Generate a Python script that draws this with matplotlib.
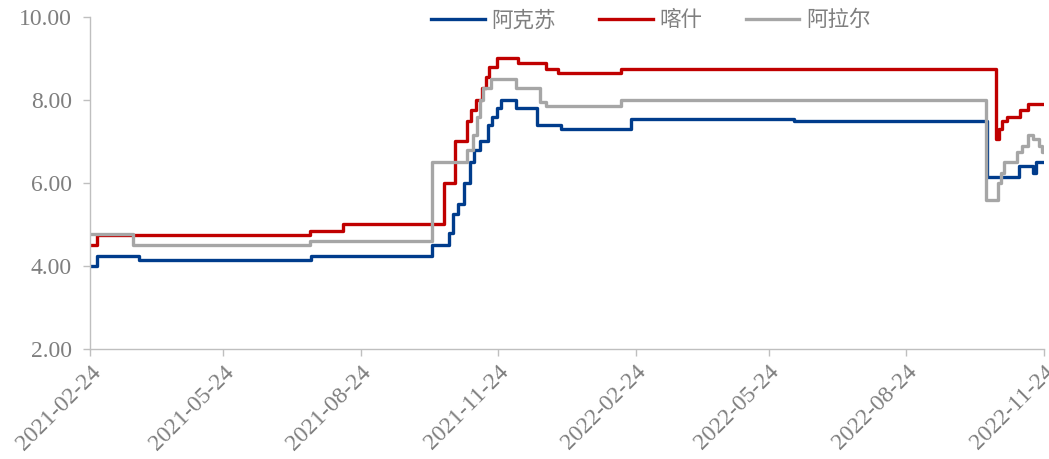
import matplotlib.pyplot as plt
import matplotlib.dates as mdates
import pandas as pd

# 阿克苏
aks_dates = ['2021-02-24', '2021-03-01', '2021-03-29', '2021-07-22', '2021-10-11',
             '2021-10-22', '2021-10-25', '2021-10-28', '2021-11-01', '2021-11-05',
             '2021-11-08', '2021-11-12', '2021-11-17', '2021-11-20', '2021-11-23',
             '2021-11-26', '2021-12-06', '2021-12-20', '2022-01-05', '2022-02-21',
             '2022-06-10', '2022-10-17', '2022-11-07', '2022-11-17', '2022-11-19',
             '2022-11-24']
aks_vals = [4.00, 4.25, 4.15, 4.25, 4.50,
            4.80, 5.25, 5.50, 6.00, 6.50,
            6.80, 7.00, 7.40, 7.60, 7.80,
            8.00, 7.80, 7.40, 7.30, 7.55,
            7.50, 6.15, 6.40, 6.25, 6.50,
            6.50]

# 喀什
ks_dates = ['2021-02-24', '2021-03-01', '2021-07-21', '2021-08-12', '2021-10-19',
            '2021-10-26', '2021-11-03', '2021-11-06', '2021-11-09', '2021-11-13',
            '2021-11-16', '2021-11-18', '2021-11-23', '2021-12-07', '2021-12-26',
            '2022-01-03', '2022-02-14', '2022-10-23', '2022-10-25', '2022-10-27',
            '2022-10-30', '2022-11-08', '2022-11-13', '2022-11-24']
ks_vals = [4.50, 4.75, 4.85, 5.00, 6.00,
           7.00, 7.50, 7.75, 8.00, 8.30,
           8.55, 8.80, 9.00, 8.90, 8.75,
           8.65, 8.75, 7.05, 7.30, 7.50,
           7.60, 7.75, 7.90, 7.90]

# 阿拉尔
ale_dates = ['2021-02-24', '2021-03-25', '2021-07-21', '2021-10-11', '2021-11-03',
             '2021-11-07', '2021-11-10', '2021-11-12', '2021-11-14', '2021-11-19',
             '2021-12-06', '2021-12-22', '2021-12-26', '2022-02-14', '2022-10-16',
             '2022-10-24', '2022-10-26', '2022-10-28', '2022-11-06', '2022-11-09',
             '2022-11-13', '2022-11-17', '2022-11-21', '2022-11-23', '2022-11-24']
ale_vals = [4.78, 4.50, 4.60, 6.50, 6.80,
            7.15, 7.60, 8.00, 8.30, 8.50,
            8.30, 7.95, 7.85, 8.00, 5.60,
            6.00, 6.25, 6.50, 6.75, 6.90,
            7.15, 7.05, 6.90, 6.75, 6.75]

series = [
    ('阿克苏', aks_dates, aks_vals, '#003C8C'),
    ('喀什', ks_dates, ks_vals, '#C00000'),
    ('阿拉尔', ale_dates, ale_vals, '#A6A6A6'),
]
tick_dates = ['2021-02-24', '2021-05-24', '2021-08-24', '2021-11-24',
              '2022-02-24', '2022-05-24', '2022-08-24', '2022-11-24']

plt.rcParams['font.family'] = ['Liberation Serif', 'Noto Sans CJK SC']
grey = '#7F7F7F'

fig = plt.figure(figsize=(10.49, 4.59), dpi=100)
ax = fig.add_axes([0.0858, 0.2397, 0.9094, 0.7233])

for name, d, v, c in series:
    ax.plot(pd.to_datetime(d), v, drawstyle='steps-post', color=c, lw=2.4, label=name)

ax.set_ylim(2, 10)
ax.set_yticks([2, 4, 6, 8, 10])
ax.yaxis.set_major_formatter(plt.FormatStrFormatter('%.2f'))
ticks = pd.to_datetime(tick_dates)
ax.set_xlim(ticks[0], ticks[-1])
ax.set_xticks(ticks)
ax.xaxis.set_major_formatter(mdates.DateFormatter('%Y-%m-%d'))

for s in ['top', 'right']:
    ax.spines[s].set_visible(False)
for s in ['left', 'bottom']:
    ax.spines[s].set_color('#BFBFBF')
    ax.spines[s].set_linewidth(1.0)

ax.tick_params(axis='both', colors='#BFBFBF', labelcolor=grey, labelsize=17,
               length=5, width=1.0)
ax.tick_params(axis='y', pad=8)
ax.tick_params(axis='x', pad=4)
for lbl in ax.get_xticklabels():
    lbl.set_rotation(45)
    lbl.set_ha('right')
    lbl.set_va('top')
    lbl.set_rotation_mode('anchor')

leg = ax.legend(loc='center', bbox_to_anchor=(0.588, 0.99), ncol=3, frameon=False,
                fontsize=15.5, handlelength=2.5, handletextpad=0.3, columnspacing=2.0)
for t in leg.get_texts():
    t.set_color(grey)
    t.set_family(['Noto Sans CJK SC'])

fig.savefig('out.png', dpi=100)
